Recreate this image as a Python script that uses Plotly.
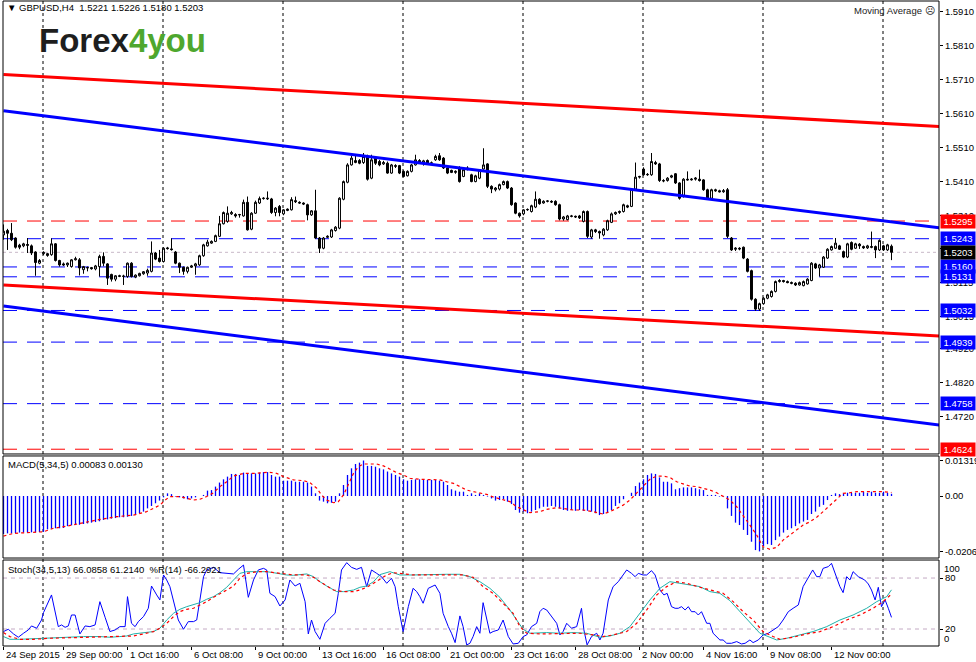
import plotly.graph_objects as go

# GBPUSD H4 bars, 24 Sep - 13 Nov 2015 (one entry per bar)
opens = [
    1.5254, 1.5267, 1.5259, 1.5245, 1.5224, 1.5222, 1.5223, 1.5222, 1.5204, 1.5171,
    1.5199, 1.5199, 1.5196, 1.5228, 1.5179, 1.5169, 1.5166, 1.5161, 1.5181, 1.5181,
    1.5152, 1.5157, 1.5158, 1.5154, 1.5161, 1.5191, 1.5169, 1.5138, 1.5124, 1.5132,
    1.5132, 1.5132, 1.5171, 1.5130, 1.5134, 1.5140, 1.5142, 1.5147, 1.5201, 1.5186,
    1.5176, 1.5216, 1.5213, 1.5204, 1.5171, 1.5159, 1.5147, 1.5159, 1.5163, 1.5166,
    1.5193, 1.5222, 1.5230, 1.5235, 1.5250, 1.5287, 1.5294, 1.5316, 1.5314, 1.5313,
    1.5310, 1.5350, 1.5271, 1.5318, 1.5348, 1.5361, 1.5360, 1.5360, 1.5320, 1.5338,
    1.5316, 1.5326, 1.5328, 1.5355, 1.5350, 1.5348, 1.5343, 1.5313, 1.5325, 1.5245,
    1.5215, 1.5247, 1.5248, 1.5267, 1.5274, 1.5359, 1.5409, 1.5460, 1.5467, 1.5473,
    1.5467, 1.5485, 1.5421, 1.5480, 1.5470, 1.5463, 1.5465, 1.5436, 1.5458, 1.5458,
    1.5441, 1.5428, 1.5441, 1.5460, 1.5473, 1.5465, 1.5473, 1.5465, 1.5475, 1.5487,
    1.5480, 1.5451, 1.5444, 1.5438, 1.5451, 1.5426, 1.5446, 1.5431, 1.5411, 1.5421,
    1.5448, 1.5463, 1.5397, 1.5387, 1.5389, 1.5402, 1.5411, 1.5392, 1.5348, 1.5318,
    1.5316, 1.5328, 1.5323, 1.5336, 1.5359, 1.5348, 1.5353, 1.5353, 1.5353, 1.5343,
    1.5301, 1.5299, 1.5310, 1.5309, 1.5310, 1.5294, 1.5323, 1.5248, 1.5269, 1.5264,
    1.5254, 1.5269, 1.5291, 1.5316, 1.5320, 1.5323, 1.5340, 1.5338, 1.5389, 1.5424,
    1.5448, 1.5431, 1.5431, 1.5467, 1.5463, 1.5414, 1.5414, 1.5424, 1.5434, 1.5407,
    1.5367, 1.5418, 1.5416, 1.5418, 1.5418, 1.5416, 1.5387, 1.5362, 1.5387, 1.5384,
    1.5381, 1.5387, 1.5245, 1.5212, 1.5215, 1.5218, 1.5183, 1.5149, 1.5065, 1.5036,
    1.5052, 1.5068, 1.5073, 1.5088, 1.5117, 1.5120, 1.5117, 1.5114, 1.5112, 1.5107,
    1.5105, 1.5110, 1.5120, 1.5169, 1.5157, 1.5159, 1.5186, 1.5210, 1.5215, 1.5222,
    1.5205, 1.5189, 1.5232, 1.5215, 1.5227, 1.5220, 1.5216, 1.5220, 1.5220, 1.5210,
    1.5222, 1.5210, 1.5221,
]
highs = [
    1.5285, 1.5272, 1.5289, 1.5247, 1.5228, 1.5231, 1.5245, 1.5226, 1.5206, 1.5183,
    1.5206, 1.5201, 1.5244, 1.5230, 1.5181, 1.5173, 1.5173, 1.5183, 1.5190, 1.5186,
    1.5163, 1.5161, 1.5160, 1.5166, 1.5196, 1.5203, 1.5171, 1.5140, 1.5136, 1.5137,
    1.5137, 1.5173, 1.5174, 1.5138, 1.5143, 1.5148, 1.5155, 1.5235, 1.5204, 1.5210,
    1.5218, 1.5219, 1.5244, 1.5207, 1.5173, 1.5161, 1.5161, 1.5166, 1.5172, 1.5196,
    1.5228, 1.5240, 1.5238, 1.5255, 1.5310, 1.5323, 1.5338, 1.5325, 1.5318, 1.5316,
    1.5358, 1.5367, 1.5321, 1.5355, 1.5367, 1.5365, 1.5382, 1.5363, 1.5336, 1.5342,
    1.5330, 1.5332, 1.5365, 1.5367, 1.5353, 1.5350, 1.5346, 1.5327, 1.5387, 1.5248,
    1.5248, 1.5253, 1.5272, 1.5280, 1.5365, 1.5414, 1.5465, 1.5487, 1.5490, 1.5477,
    1.5495, 1.5490, 1.5490, 1.5482, 1.5475, 1.5472, 1.5470, 1.5463, 1.5462, 1.5460,
    1.5444, 1.5444, 1.5463, 1.5490, 1.5477, 1.5475, 1.5476, 1.5470, 1.5490, 1.5495,
    1.5483, 1.5453, 1.5446, 1.5444, 1.5456, 1.5451, 1.5456, 1.5434, 1.5431, 1.5448,
    1.5509, 1.5465, 1.5400, 1.5395, 1.5405, 1.5414, 1.5414, 1.5395, 1.5350, 1.5320,
    1.5330, 1.5332, 1.5343, 1.5382, 1.5362, 1.5356, 1.5356, 1.5356, 1.5356, 1.5346,
    1.5310, 1.5313, 1.5313, 1.5311, 1.5313, 1.5326, 1.5326, 1.5272, 1.5272, 1.5267,
    1.5274, 1.5299, 1.5320, 1.5323, 1.5326, 1.5346, 1.5343, 1.5392, 1.5467, 1.5428,
    1.5453, 1.5436, 1.5495, 1.5472, 1.5466, 1.5418, 1.5424, 1.5431, 1.5436, 1.5409,
    1.5421, 1.5441, 1.5421, 1.5424, 1.5446, 1.5418, 1.5390, 1.5390, 1.5390, 1.5387,
    1.5389, 1.5392, 1.5248, 1.5218, 1.5218, 1.5220, 1.5186, 1.5152, 1.5068, 1.5055,
    1.5071, 1.5081, 1.5091, 1.5120, 1.5124, 1.5122, 1.5120, 1.5117, 1.5115, 1.5117,
    1.5120, 1.5127, 1.5174, 1.5172, 1.5169, 1.5192, 1.5215, 1.5223, 1.5245, 1.5225,
    1.5208, 1.5231, 1.5235, 1.5231, 1.5230, 1.5223, 1.5225, 1.5264, 1.5223, 1.5241,
    1.5225, 1.5228, 1.5226,
]
lows = [
    1.5240, 1.5210, 1.5236, 1.5214, 1.5212, 1.5218, 1.5201, 1.5195, 1.5134, 1.5168,
    1.5195, 1.5190, 1.5193, 1.5176, 1.5161, 1.5163, 1.5160, 1.5158, 1.5179, 1.5135,
    1.5140, 1.5147, 1.5152, 1.5150, 1.5132, 1.5162, 1.5107, 1.5117, 1.5118, 1.5130,
    1.5107, 1.5128, 1.5129, 1.5127, 1.5132, 1.5137, 1.5134, 1.5144, 1.5180, 1.5173,
    1.5173, 1.5211, 1.5208, 1.5168, 1.5142, 1.5137, 1.5141, 1.5157, 1.5137, 1.5163,
    1.5190, 1.5220, 1.5228, 1.5233, 1.5248, 1.5285, 1.5290, 1.5313, 1.5305, 1.5305,
    1.5308, 1.5267, 1.5268, 1.5316, 1.5345, 1.5358, 1.5357, 1.5316, 1.5309, 1.5309,
    1.5312, 1.5324, 1.5326, 1.5348, 1.5346, 1.5342, 1.5297, 1.5310, 1.5243, 1.5201,
    1.5212, 1.5245, 1.5245, 1.5264, 1.5271, 1.5356, 1.5406, 1.5458, 1.5465, 1.5462,
    1.5463, 1.5414, 1.5418, 1.5460, 1.5456, 1.5460, 1.5434, 1.5434, 1.5451, 1.5433,
    1.5424, 1.5426, 1.5438, 1.5458, 1.5463, 1.5458, 1.5462, 1.5462, 1.5472, 1.5472,
    1.5448, 1.5433, 1.5436, 1.5434, 1.5408, 1.5424, 1.5444, 1.5409, 1.5409, 1.5418,
    1.5446, 1.5392, 1.5377, 1.5382, 1.5385, 1.5400, 1.5389, 1.5340, 1.5315, 1.5305,
    1.5312, 1.5325, 1.5320, 1.5333, 1.5343, 1.5346, 1.5350, 1.5348, 1.5340, 1.5297,
    1.5296, 1.5297, 1.5306, 1.5304, 1.5301, 1.5291, 1.5245, 1.5243, 1.5260, 1.5243,
    1.5250, 1.5266, 1.5289, 1.5313, 1.5316, 1.5320, 1.5333, 1.5336, 1.5387, 1.5420,
    1.5428, 1.5428, 1.5428, 1.5460, 1.5410, 1.5409, 1.5411, 1.5421, 1.5404, 1.5358,
    1.5364, 1.5414, 1.5414, 1.5414, 1.5411, 1.5384, 1.5358, 1.5359, 1.5381, 1.5379,
    1.5378, 1.5245, 1.5207, 1.5207, 1.5209, 1.5183, 1.5144, 1.5061, 1.5031, 1.5031,
    1.5049, 1.5065, 1.5070, 1.5085, 1.5114, 1.5114, 1.5112, 1.5109, 1.5104, 1.5105,
    1.5103, 1.5108, 1.5118, 1.5154, 1.5132, 1.5157, 1.5184, 1.5208, 1.5213, 1.5210,
    1.5186, 1.5186, 1.5209, 1.5213, 1.5213, 1.5213, 1.5213, 1.5215, 1.5186, 1.5207,
    1.5207, 1.5207, 1.5180,
]
closes = [
    1.5265, 1.5259, 1.5240, 1.5218, 1.5218, 1.5228, 1.5226, 1.5201, 1.5173, 1.5179,
    1.5203, 1.5194, 1.5228, 1.5179, 1.5166, 1.5166, 1.5171, 1.5181, 1.5184, 1.5157,
    1.5161, 1.5158, 1.5155, 1.5163, 1.5191, 1.5171, 1.5127, 1.5124, 1.5134, 1.5134,
    1.5133, 1.5171, 1.5132, 1.5136, 1.5141, 1.5146, 1.5150, 1.5201, 1.5183, 1.5176,
    1.5215, 1.5214, 1.5211, 1.5171, 1.5159, 1.5147, 1.5159, 1.5163, 1.5169, 1.5193,
    1.5225, 1.5233, 1.5235, 1.5252, 1.5287, 1.5320, 1.5318, 1.5320, 1.5310, 1.5314,
    1.5350, 1.5269, 1.5318, 1.5350, 1.5361, 1.5362, 1.5362, 1.5320, 1.5333, 1.5320,
    1.5328, 1.5330, 1.5358, 1.5352, 1.5348, 1.5345, 1.5313, 1.5325, 1.5245, 1.5215,
    1.5245, 1.5250, 1.5269, 1.5277, 1.5362, 1.5411, 1.5460, 1.5480, 1.5473, 1.5465,
    1.5485, 1.5418, 1.5475, 1.5465, 1.5460, 1.5467, 1.5436, 1.5460, 1.5456, 1.5436,
    1.5426, 1.5441, 1.5460, 1.5475, 1.5467, 1.5472, 1.5465, 1.5466, 1.5485, 1.5475,
    1.5451, 1.5436, 1.5438, 1.5441, 1.5411, 1.5446, 1.5451, 1.5411, 1.5428, 1.5446,
    1.5460, 1.5397, 1.5389, 1.5392, 1.5402, 1.5411, 1.5392, 1.5343, 1.5318, 1.5310,
    1.5328, 1.5329, 1.5340, 1.5359, 1.5346, 1.5353, 1.5354, 1.5351, 1.5343, 1.5301,
    1.5307, 1.5310, 1.5309, 1.5307, 1.5304, 1.5323, 1.5250, 1.5269, 1.5264, 1.5260,
    1.5271, 1.5296, 1.5316, 1.5320, 1.5323, 1.5343, 1.5336, 1.5389, 1.5424, 1.5426,
    1.5431, 1.5432, 1.5470, 1.5463, 1.5414, 1.5413, 1.5421, 1.5428, 1.5407, 1.5362,
    1.5418, 1.5416, 1.5418, 1.5421, 1.5414, 1.5387, 1.5362, 1.5387, 1.5384, 1.5381,
    1.5384, 1.5250, 1.5210, 1.5215, 1.5213, 1.5186, 1.5147, 1.5065, 1.5036, 1.5052,
    1.5068, 1.5078, 1.5088, 1.5117, 1.5120, 1.5117, 1.5114, 1.5112, 1.5107, 1.5114,
    1.5117, 1.5124, 1.5171, 1.5157, 1.5166, 1.5189, 1.5212, 1.5220, 1.5230, 1.5212,
    1.5189, 1.5228, 1.5212, 1.5228, 1.5222, 1.5216, 1.5222, 1.5218, 1.5210, 1.5238,
    1.5210, 1.5225, 1.5203,
]

# MACD(5,34,5) histogram per bar, in units of 0.0001
macd_hist = [
    -141, -139, -139, -138, -136, -136, -136, -135, -135, -134,
    -133, -124, -122, -120, -120, -119, -112, -109, -108, -107,
    -104, -102, -99, -97, -94, -89, -87, -84, -82, -79,
    -79, -77, -74, -71, -64, -58, -46, -37, -27, -17,
    -5, 10, 7, -2, -5, -9, -12, -9, -5, 0,
    4, 20, 22, 35, 50, 62, 72, 82, 82, 78,
    87, 84, 84, 84, 87, 89, 89, 78, 72, 72,
    57, 57, 57, 53, 53, 53, 50, 35, 10, -17,
    -21, -27, -25, -21, 10, 41, 78, 103, 119, 124,
    132, 112, 112, 109, 103, 99, 91, 84, 78, 72,
    62, 57, 60, 62, 62, 62, 60, 60, 60, 57,
    53, 41, 25, 20, 16, 16, 4, 10, 4, 10,
    4, -2, -9, -17, -15, -12, -21, -30, -52, -62,
    -58, -64, -58, -52, -46, -40, -40, -37, -40, -46,
    -52, -55, -52, -55, -52, -55, -55, -58, -64, -71,
    -67, -62, -52, -37, -27, -12, 0, 12, 37, 50,
    62, 78, 84, 82, 69, 53, 53, 47, 25, 29,
    32, 32, 32, 29, 25, 22, 4, 4, 4, -2,
    -2, -46, -74, -99, -108, -126, -145, -170, -201, -206,
    -186, -179, -182, -164, -151, -136, -126, -120, -112, -102,
    -95, -89, -67, -58, -40, -33, -15, 4, 10, 7,
    10, 12, 12, 12, 12, 16, 12, 16, 12, 12,
    16, 12, 8.3,
]

# MACD signal line, (bar, value in 0.0001)
macd_signal = [
    (0, -149), (2.5, -139), (10, -133), (12.5, -120), (15.8, -112), (20, -99),
    (24.1, -87), (28.3, -77), (32.5, -71), (35.8, -58), (37.5, -46), (39.1, -34),
    (40.4, -15), (41.6, -2), (44.1, -2), (45.8, -9), (47.5, -15), (49.1, -12),
    (50.8, -2), (52.5, 12), (54.1, 35), (55.8, 53), (57.5, 74), (60, 84),
    (62.5, 84), (65, 87), (66.6, 88), (68.3, 84), (70, 72), (72.5, 60),
    (75, 57), (76.6, 50), (78.3, 29), (79.5, 4), (80.8, -15), (82.5, -25),
    (83.7, -21), (85, 4), (86.2, 41), (87.5, 84), (88.7, 109), (90, 119),
    (91.6, 119), (93.3, 119), (95, 112), (96.6, 99), (98.3, 87), (100, 78),
    (101.6, 66), (104.1, 62), (106.6, 62), (109.1, 60), (110.8, 53), (112.5, 47),
    (114.1, 35), (115.8, 22), (117.5, 16), (119.1, 10), (120.8, 6), (122.5, -4),
    (124.9, -15), (126.6, -21), (128.3, -40), (129.9, -52), (131.6, -62), (134.1, -58),
    (135.8, -50), (138.3, -43), (139.9, -46), (142.4, -52), (144.9, -52), (147.4, -58),
    (149.9, -67), (151.6, -58), (153.3, -46), (154.9, -34), (156.6, -15), (158.3, 10),
    (159.9, 35), (161.6, 62), (163.3, 74), (164.9, 74), (166.6, 69), (168.3, 53),
    (169.9, 45), (171.6, 37), (173.3, 35), (174.9, 29), (176.6, 22), (178.3, 12),
    (179.9, 0), (181.6, -15), (183.3, -40), (184.9, -71), (186.6, -108), (188.3, -145),
    (189.9, -189), (191.6, -198), (193.3, -191), (194.9, -164), (196.6, -145), (198.3, -124),
    (199.9, -108), (201.6, -96), (203.3, -79), (204.9, -58), (206.6, -34), (208.3, -9),
    (209.9, 10), (211.6, 12), (213.3, 16), (214.9, 16), (218.3, 16), (219.9, 16),
    (222, 13),
]

# Stoch(34,5,13) main line, (bar, value)
stoch_main = [
    (0, 11.1), (1.6, 7.9), (4.1, 7.9), (7.5, 8.7), (11.6, 9.5), (15.8, 10.3),
    (20.0, 11.1), (24.1, 11.1), (26.6, 10.3), (29.1, 11.1), (30.8, 11.8), (32.5, 14.2),
    (35.0, 15.8), (37.5, 17.0), (39.1, 20.9), (40.8, 30.6), (42.5, 38.5), (44.1, 43.2),
    (45.8, 46.3), (47.5, 48.3), (49.1, 51.0), (50.8, 55.0), (52.5, 58.1), (54.1, 62.8),
    (55.8, 69.1), (57.5, 77.7), (59.1, 85.5), (60.8, 87.5), (63.3, 87.5), (65.8, 87.5),
    (67.5, 86.3), (69.1, 84.8), (70.8, 83.6), (72.5, 83.2), (74.1, 84.4), (75.8, 84.8),
    (77.5, 81.6), (79.1, 75.7), (80.8, 70.6), (82.5, 66.7), (83.3, 64.0), (85.0, 64.0),
    (87.5, 65.9), (89.1, 69.1), (90.8, 70.6), (92.5, 75.7), (94.1, 84.0), (96.6, 87.5),
    (99.1, 83.6), (102.4, 83.6), (106.6, 84.4), (110.8, 84.4), (114.1, 84.4), (116.6, 81.6),
    (119.1, 75.7), (121.6, 67.9), (124.1, 57.3), (126.6, 42.4), (128.3, 30.6), (129.9, 19.7),
    (131.6, 15.0), (135.8, 15.8), (139.1, 15.0), (142.4, 15.8), (145.8, 15.0), (149.1, 10.3),
    (151.6, 11.8), (154.1, 15.0), (156.6, 22.8), (159.1, 38.5), (161.6, 54.2), (164.1, 67.9),
    (166.6, 75.7), (169.1, 73.8), (171.6, 71.8), (174.1, 69.9), (176.6, 64.0), (179.1, 62.0),
    (181.6, 53.4), (184.1, 40.5), (186.6, 26.7), (189.1, 15.0), (191.6, 10.3), (193.3, 7.1),
    (195.8, 9.1), (199.1, 13.0), (202.4, 17.0), (205.8, 22.8), (209.1, 30.6), (212.4, 36.5),
    (215.8, 44.4), (218.3, 52.2), (220.8, 58.1), (222.0, 66.1),
]

# Stoch signal line, (bar, value)
stoch_signal = [
    (0, 15.8), (1.6, 11.1), (4.1, 7.9), (7.5, 7.9), (11.6, 9.1), (15.8, 9.5),
    (20.0, 10.3), (24.1, 10.3), (28.3, 11.1), (30.8, 11.1), (32.5, 11.8), (35.0, 14.2),
    (37.5, 17.0), (39.1, 20.9), (40.8, 26.7), (42.5, 34.6), (44.1, 40.5), (45.8, 43.2),
    (47.5, 44.4), (49.1, 48.3), (50.8, 52.2), (52.5, 57.3), (54.1, 61.2), (55.8, 65.9),
    (57.5, 70.6), (59.1, 79.7), (60.8, 85.5), (63.3, 87.5), (65.8, 87.5), (69.1, 85.5),
    (72.5, 83.6), (75.8, 83.6), (77.5, 80.8), (79.1, 75.7), (80.8, 70.6), (82.5, 65.9),
    (85.0, 64.0), (87.5, 64.0), (89.1, 65.9), (90.8, 69.1), (92.5, 73.8), (94.1, 78.5),
    (95.8, 83.6), (97.5, 86.3), (99.1, 85.5), (102.4, 83.6), (110.8, 83.6), (114.9, 83.6),
    (117.4, 80.8), (119.9, 69.9), (122.4, 62.0), (124.9, 50.3), (127.4, 38.5), (129.1, 22.8),
    (130.8, 15.0), (134.1, 14.2), (139.1, 15.0), (144.1, 15.0), (147.4, 13.0), (149.9, 11.1),
    (152.4, 13.0), (155.8, 17.0), (158.3, 26.7), (160.8, 42.4), (163.3, 60.1), (165.8, 69.9),
    (168.3, 75.7), (170.8, 73.8), (174.1, 69.1), (176.6, 65.9), (179.9, 62.0), (182.4, 52.2),
    (184.9, 40.5), (187.4, 30.6), (189.9, 17.0), (192.4, 11.1), (194.1, 7.9), (197.4, 10.3),
    (200.8, 14.2), (204.1, 17.0), (207.4, 22.8), (210.8, 30.6), (214.1, 36.5), (217.4, 44.4),
    (219.9, 52.2), (222.0, 61.2),
]

# %R(14), drawn on the 0..100 scale (value + 100), (bar, value)
williams_r = [
    (0.0, 17.0), (1.2, 19.7), (2.5, 14.2), (3.7, 10.3), (5.0, 15.0), (6.2, 18.9),
    (7.0, 23.6), (8.3, 20.9), (9.5, 30.6), (10.0, 39.3), (12.0, 60.1), (12.9, 39.3),
    (13.7, 22.8), (14.5, 24.8), (15.4, 22.0), (16.2, 23.6), (17.0, 36.5), (17.9, 36.5),
    (19.1, 14.2), (20.4, 23.6), (21.6, 22.8), (22.9, 24.8), (24.1, 52.2), (25.4, 33.8),
    (26.6, 17.0), (27.9, 18.9), (29.1, 22.8), (30.4, 22.8), (31.0, 58.1), (32.0, 26.7),
    (32.9, 22.8), (33.7, 28.7), (35.0, 34.6), (36.2, 44.4), (37.0, 70.6), (38.3, 60.1),
    (39.1, 54.2), (40.0, 83.6), (40.8, 77.7), (41.6, 69.9), (42.5, 54.2), (43.7, 30.6),
    (45.0, 19.7), (46.2, 28.7), (47.5, 28.7), (48.3, 30.6), (49.1, 54.2), (50.0, 81.6),
    (50.8, 89.5), (52.5, 92.6), (54.1, 86.3), (55.8, 85.5), (57.5, 84.8), (58.7, 90.2),
    (60.0, 95.3), (61.2, 57.3), (62.5, 77.7), (63.7, 89.5), (65.0, 91.4), (65.8, 89.5),
    (66.6, 62.0), (67.9, 58.1), (69.1, 47.1), (70.4, 54.2), (71.6, 77.7), (72.9, 70.6),
    (74.1, 73.8), (75.4, 52.2), (76.2, 14.2), (77.0, 30.6), (77.9, 17.0), (79.1, 7.9),
    (80.4, 26.7), (81.6, 32.6), (82.9, 38.5), (83.7, 62.0), (84.5, 89.5), (85.8, 98.1),
    (87.0, 92.6), (88.3, 90.2), (89.5, 92.6), (90.8, 69.9), (92.0, 89.5), (93.3, 85.5),
    (94.5, 81.6), (95.8, 73.8), (97.0, 79.7), (97.9, 69.9), (98.7, 46.3), (99.9, 17.0),
    (101.2, 46.3), (102.4, 67.9), (103.3, 64.0), (104.1, 58.1), (104.9, 50.3), (106.2, 67.9),
    (107.0, 69.9), (107.9, 71.8), (109.1, 62.0), (109.9, 38.5), (111.2, 22.8), (112.0, 15.0),
    (112.9, 4.0), (114.1, 35.4), (114.9, 22.8), (115.8, 1.3), (116.6, 3.2), (117.4, 11.1),
    (118.3, 22.8), (119.1, 15.0), (119.9, 51.0), (120.8, 30.6), (121.6, 15.0), (122.4, 17.0),
    (123.7, 18.9), (124.9, 30.6), (126.2, 11.1), (127.4, 2.4), (128.7, 3.2), (129.9, 11.1),
    (130.8, 13.0), (132.0, 22.8), (133.3, 26.7), (134.1, 40.5), (134.9, 44.4), (135.8, 42.4),
    (137.0, 34.6), (138.3, 26.7), (139.1, 13.0), (139.9, 17.0), (140.8, 26.7), (142.0, 20.9),
    (143.3, 22.8), (144.5, 44.4), (145.1, 18.9), (145.9, 1.3), (147.0, 11.1), (148.3, 15.0),
    (149.1, 7.1), (149.9, 15.0), (151.2, 54.2), (152.4, 69.9), (153.7, 75.7), (154.9, 83.6),
    (155.8, 89.5), (157.0, 85.5), (157.9, 81.6), (158.7, 85.5), (159.9, 83.6), (160.8, 83.6),
    (162.0, 88.7), (162.9, 83.6), (164.1, 65.9), (165.1, 60.1), (165.9, 62.0), (167.0, 46.3),
    (167.9, 44.4), (168.7, 44.4), (169.5, 46.3), (170.4, 42.4), (171.2, 46.3), (172.0, 40.4),
    (172.9, 40.4), (173.7, 36.5), (174.5, 40.4), (175.8, 26.7), (176.6, 26.7), (177.4, 15.0),
    (178.3, 11.1), (179.1, 7.1), (179.9, 7.1), (180.8, 3.2), (182.0, 3.2), (183.3, 5.2),
    (184.5, 2.4), (185.4, 3.2), (186.6, 7.1), (187.4, 4.0), (188.7, 7.1), (189.9, 13.0),
    (191.2, 15.0), (192.4, 18.9), (193.7, 22.8), (194.9, 30.6), (196.2, 40.4), (197.4, 44.4),
    (198.7, 48.3), (199.9, 69.9), (201.2, 79.7), (202.3, 89.5), (203.3, 81.6), (204.1, 81.6),
    (204.9, 91.4), (206.2, 93.4), (207.0, 97.3), (208.3, 81.6), (209.1, 69.9), (209.9, 62.8),
    (210.8, 81.6), (211.6, 77.7), (212.4, 87.5), (213.7, 81.6), (214.5, 79.7), (215.3, 77.7),
    (216.2, 73.0), (217.0, 65.9), (217.9, 54.2), (218.7, 69.1), (219.5, 46.3), (220.4, 54.2),
    (221.2, 44.4), (222.0, 33.7),
]

# channel trend lines: price at the left and right end of the chart
trend_bars = [0, 234]
red_upper = [1.5726, 1.5573]
blue_upper = [1.5619, 1.5275]
red_lower = [1.5107, 1.4957]
blue_lower = [1.5045, 1.4695]

# horizontal support / resistance levels
levels = [1.5295, 1.5243, 1.5160, 1.5131, 1.5032, 1.4939, 1.4758, 1.4624]
level_colors = ["red", "blue", "blue", "blue", "blue", "blue", "blue", "red"]

price_ticks = [1.5910, 1.5810, 1.5710, 1.5610, 1.5510, 1.5410, 1.5310,
               1.5215, 1.5115, 1.5015, 1.4920, 1.4820, 1.4720]

date_bars = [0, 15, 31, 47, 63, 79, 95, 111, 127, 143, 159, 175, 191, 207]
date_labels = ["24 Sep 2015", "29 Sep 00:00", "1 Oct 16:00", "6 Oct 08:00",
               "9 Oct 00:00", "13 Oct 16:00", "16 Oct 08:00", "21 Oct 00:00",
               "23 Oct 16:00", "28 Oct 08:00", "2 Nov 00:00", "4 Nov 16:00",
               "9 Nov 08:00", "12 Nov 00:00"]

FONT = "Liberation Sans, Arial, sans-serif"
bars = list(range(len(closes)))
x_range = [-0.125, 233.875]
grid_bars = [9.875, 39.875, 69.875, 99.875, 129.875, 159.875, 189.875, 219.875]

fig = go.Figure()

fig.add_trace(go.Candlestick(
    x=bars, open=opens, high=highs, low=lows, close=closes,
    increasing=dict(line=dict(color="black", width=1), fillcolor="white"),
    decreasing=dict(line=dict(color="black", width=1), fillcolor="black"),
    whiskerwidth=0, xaxis="x", yaxis="y",
))

for vals, color in [(red_upper, "red"), (blue_upper, "blue"),
                    (red_lower, "red"), (blue_lower, "blue")]:
    fig.add_trace(go.Scatter(x=trend_bars, y=vals, mode="lines",
                             line=dict(color=color, width=3), xaxis="x", yaxis="y"))

# MT4 draws the histogram as thin sticks from zero, one per bar
stick_x, stick_y = [], []
for b, v in zip(bars, macd_hist):
    stick_x += [b, b, None]
    stick_y += [0, v / 10000, None]
fig.add_trace(go.Scatter(x=stick_x, y=stick_y, mode="lines",
                         line=dict(color="#0000ff", width=1.3),
                         xaxis="x2", yaxis="y2"))
fig.add_trace(go.Scatter(x=[p[0] for p in macd_signal],
                         y=[p[1] / 10000 for p in macd_signal], mode="lines",
                         line=dict(color="red", width=1.2, dash="dot"),
                         xaxis="x2", yaxis="y2"))

fig.add_trace(go.Scatter(x=[p[0] for p in williams_r], y=[p[1] for p in williams_r],
                         mode="lines", line=dict(color="#0000ff", width=1),
                         xaxis="x3", yaxis="y3"))
fig.add_trace(go.Scatter(x=[p[0] for p in stoch_main], y=[p[1] for p in stoch_main],
                         mode="lines", line=dict(color="#20b2aa", width=1),
                         xaxis="x3", yaxis="y3"))
fig.add_trace(go.Scatter(x=[p[0] for p in stoch_signal], y=[p[1] for p in stoch_signal],
                         mode="lines", line=dict(color="red", width=1.2, dash="dot"),
                         xaxis="x3", yaxis="y3"))

shapes = []
for g in grid_bars:
    shapes.append(dict(type="line", xref="x", yref="paper", x0=g, x1=g, y0=0, y1=1,
                       line=dict(color="black", width=1, dash="3px,3px"), layer="below"))
for lv, c in zip(levels, level_colors):
    shapes.append(dict(type="line", xref="x domain", yref="y", x0=0, x1=1, y0=lv, y1=lv,
                       line=dict(color=c, width=1, dash="14px,10px"), layer="below"))
shapes.append(dict(type="line", xref="x domain", yref="y", x0=0, x1=1,
                   y0=closes[-1], y1=closes[-1],
                   line=dict(color="#c8b8c8", width=1, dash="dot"), layer="below"))
for lv in [80, 20]:
    shapes.append(dict(type="line", xref="x3 domain", yref="y3", x0=0, x1=1, y0=lv, y1=lv,
                       line=dict(color="#c4aac4", width=1, dash="4px,4px"), layer="below"))
for xr, yr in [("x", "y"), ("x2", "y2"), ("x3", "y3")]:
    shapes.append(dict(type="rect", xref=xr + " domain", yref=yr + " domain",
                       x0=0, x1=1, y0=0, y1=1, line=dict(color="black", width=1),
                       fillcolor="rgba(0,0,0,0)"))

ann = []
head = "\u25bc GBPUSD,H4\u00a0\u00a0{:.4f} {:.4f} {:.4f} {:.4f}".format(
    opens[-1], highs[-1], lows[-1], closes[-1])
ann.append(dict(text=head, xref="paper", yref="paper", x=0, y=1, xanchor="left",
                yanchor="top", xshift=2, yshift=1, showarrow=False,
                font=dict(size=9.5, color="black")))
ann.append(dict(text="Moving Average \u2639", xref="paper", yref="paper", x=1, y=1,
                xanchor="right", yanchor="top", xshift=-2, yshift=-2, showarrow=False,
                font=dict(size=9.5, color="#222222")))
ann.append(dict(text="<b>Forex<span style='color:#4ea72e'>4you</span></b>",
                xref="paper", yref="paper", x=0.036, y=0.939, xanchor="left",
                yanchor="middle", showarrow=False,
                font=dict(size=33, color="#1e1e1e", family=FONT)))
ann.append(dict(text="MACD(5,34,5) {:.5f} {:.5f}".format(macd_hist[-1] / 10000,
                                                          macd_signal[-1][1] / 10000),
                xref="x2 domain", yref="y2 domain", x=0, y=1, xanchor="left",
                yanchor="top", xshift=3, yshift=-1, showarrow=False,
                font=dict(size=9.5, color="black")))
ann.append(dict(text="Stoch(34,5,13) 66.0858 61.2140\u00a0\u00a0%R(14) -66.2921",
                xref="x3 domain", yref="y3 domain", x=0, y=1, xanchor="left",
                yanchor="top", xshift=3, yshift=-2, showarrow=False,
                font=dict(size=9.5, color="black")))

# coloured price boxes on the right scale
for lv, c in list(zip(levels, level_colors)) + [(closes[-1], "black")]:
    ann.append(dict(text="{:.4f}".format(lv), xref="paper", yref="y", x=1, y=lv,
                    xanchor="left", yanchor="middle", xshift=1, showarrow=False,
                    bgcolor=c, borderpad=1, width=32, align="center",
                    font=dict(size=9.5, color="white")))

ann.append(dict(text="100", xref="paper", yref="y3 domain", x=1, y=1, xanchor="left",
                yanchor="top", xshift=3, yshift=-1, showarrow=False,
                font=dict(size=9.5, color="black")))
ann.append(dict(text="0", xref="paper", yref="y3 domain", x=1, y=0, xanchor="left",
                yanchor="bottom", xshift=3, yshift=0, showarrow=False,
                font=dict(size=9.5, color="black")))

for b, t in zip(date_bars, date_labels):
    ann.append(dict(text=t, xref="x3", yref="paper", x=b, y=0, xanchor="left",
                    yanchor="top", xshift=0, yshift=-1, showarrow=False,
                    font=dict(size=9.5, color="black")))

axis_common = dict(range=x_range, showgrid=False, zeroline=False, showticklabels=False,
                   automargin=False)
yaxis_common = dict(side="right", ticks="outside", ticklen=3, tickcolor="black",
                    showgrid=False, zeroline=False, automargin=False)

fig.update_layout(
    width=976, height=662,
    margin=dict(l=3, r=37, t=1, b=16),
    paper_bgcolor="white", plot_bgcolor="white",
    showlegend=False,
    font=dict(family=FONT, size=9.5, color="black"),
    xaxis=dict(domain=[0, 1], anchor="y", rangeslider=dict(visible=False), ticks="",
               **axis_common),
    xaxis2=dict(domain=[0, 1], anchor="y2", matches="x", ticks="", **axis_common),
    xaxis3=dict(domain=[0, 1], anchor="y3", matches="x", ticks="outside", ticklen=3,
                tickcolor="black", tickvals=date_bars, **axis_common),
    yaxis=dict(domain=[0.2977, 1], anchor="x", range=[1.4610, 1.5942],
               tickvals=price_ticks, ticktext=["{:.4f}".format(p) for p in price_ticks],
               **yaxis_common),
    yaxis2=dict(domain=[0.1364, 0.2946], anchor="x2", range=[-0.02306, 0.01488],
                tickvals=[0.01319, 0, -0.02064],
                ticktext=["0.01319", "0.00", "-0.02064"], **yaxis_common),
    yaxis3=dict(domain=[0, 0.1333], anchor="x3", range=[0, 101.2],
                tickvals=[80, 20], ticktext=["80", "20"], **yaxis_common),
    shapes=shapes,
    annotations=ann,
)

# the page's default body margin would push the chart 8px off the window
fig.write_html("out.html", config={"displayModeBar": False},
               post_script="document.body.style.margin='0';")
